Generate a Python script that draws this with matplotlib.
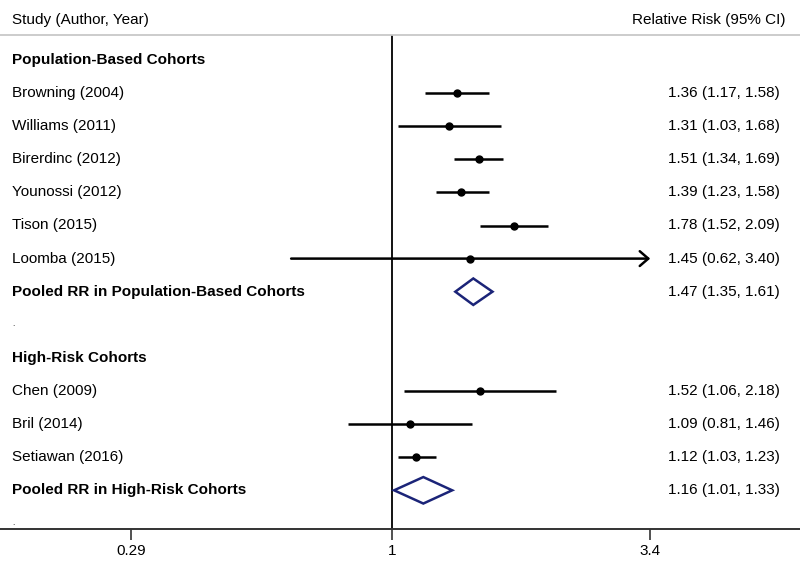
import matplotlib
matplotlib.use("Agg")
import math
import matplotlib.pyplot as plt
import matplotlib.transforms as mtransforms
from matplotlib.patches import Polygon

plt.rcParams['font.family'] = ['Liberation Sans', 'DejaVu Sans']

# ---- data ----
pop_studies = ["Browning (2004)", "Williams (2011)", "Birerdinc (2012)",
               "Younossi (2012)", "Tison (2015)", "Loomba (2015)"]
pop_rr = [1.36, 1.31, 1.51, 1.39, 1.78, 1.45]
pop_lo = [1.17, 1.03, 1.34, 1.23, 1.52, 0.62]
pop_hi = [1.58, 1.68, 1.69, 1.58, 2.09, 3.40]
pop_pooled = (1.47, 1.35, 1.61)

hr_studies = ["Chen (2009)", "Bril (2014)", "Setiawan (2016)"]
hr_rr = [1.52, 1.09, 1.12]
hr_lo = [1.06, 0.81, 1.03]
hr_hi = [2.18, 1.46, 1.23]
hr_pooled = (1.16, 1.01, 1.33)

tick_vals = [0.29, 1, 3.4]
tick_labels = ["0.29", "1", "3.4"]
x_max_shown = 3.4   # CIs reaching this are drawn with an arrow

# ---- layout ----
W, H = 800, 579
fig = plt.figure(figsize=(W / 100, H / 100), dpi=100)
top_px, bot_px = 35, 529
ax = fig.add_axes([0, (H - bot_px) / H, 1, (bot_px - top_px) / H])
ax.set_xscale('log')
px_per_ln = 211.0
ax.set_xlim(math.exp(-392 / px_per_ln), math.exp((W - 392) / px_per_ln))
row0_px, row_step = 60, 33.1
ax.set_ylim((bot_px - row0_px) / row_step, (top_px - row0_px) / row_step)

fs = 11
trans = mtransforms.blended_transform_factory(ax.transAxes, ax.transData)
xl, xr = 12 / W, 780 / W
navy = '#1b2478'

def fmt(r, l, h):
    return f"{r:.2f} ({l:.2f}, {h:.2f})"

def draw_study(row, name, r, l, h):
    ax.text(xl, row, name, transform=trans, ha='left', va='center', fontsize=fs)
    ax.text(xr, row, fmt(r, l, h), transform=trans, ha='right', va='center', fontsize=fs)
    if h >= x_max_shown:
        ax.annotate('', xy=(h, row), xytext=(l, row),
                    arrowprops=dict(arrowstyle='->,head_length=0.22,head_width=0.19',
                                    lw=1.8, color='black',
                                    mutation_scale=28, shrinkA=0, shrinkB=0))
    else:
        ax.plot([l, h], [row, row], color='black', lw=1.8, solid_capstyle='butt', zorder=3)
    ax.plot([r], [row], 'o', color='black', ms=5, zorder=4)

def draw_pooled(row, label, vals):
    r, l, h = vals
    ax.text(xl, row, label, transform=trans, ha='left', va='center', fontsize=fs, fontweight='bold')
    ax.text(xr, row, fmt(r, l, h), transform=trans, ha='right', va='center', fontsize=fs)
    d = 0.4
    ax.add_patch(Polygon([(l, row), (r, row - d), (h, row), (r, row + d)], closed=True,
                         fill=False, edgecolor=navy, lw=1.8, zorder=4))

row = 0
ax.text(xl, row, "Population-Based Cohorts", transform=trans, ha='left', va='center',
        fontsize=fs, fontweight='bold')
for i, name in enumerate(pop_studies):
    row += 1
    draw_study(row, name, pop_rr[i], pop_lo[i], pop_hi[i])
row += 1
draw_pooled(row, "Pooled RR in Population-Based Cohorts", pop_pooled)
row += 1
ax.text(xl, row, ".", transform=trans, ha='left', va='center', fontsize=6)
row += 1
ax.text(xl, row, "High-Risk Cohorts", transform=trans, ha='left', va='center',
        fontsize=fs, fontweight='bold')
for i, name in enumerate(hr_studies):
    row += 1
    draw_study(row, name, hr_rr[i], hr_lo[i], hr_hi[i])
row += 1
draw_pooled(row, "Pooled RR in High-Risk Cohorts", hr_pooled)
row += 1
ax.text(xl, row, ".", transform=trans, ha='left', va='center', fontsize=6)

ax.axvline(1, color='black', lw=1.3, zorder=2)

for s in ['left', 'right']:
    ax.spines[s].set_visible(False)
ax.spines['top'].set_color('#c8c8c8')
ax.spines['top'].set_linewidth(1.3)
ax.spines['bottom'].set_color('#333333')
ax.spines['bottom'].set_linewidth(1.4)

ax.set_xticks(tick_vals)
ax.set_xticklabels(tick_labels, fontsize=fs)
ax.xaxis.set_minor_locator(matplotlib.ticker.NullLocator())
ax.tick_params(axis='x', direction='out', length=8, width=1.2, pad=3, color='#333333')
ax.set_yticks([])

fig.text(12 / W, (H - 20) / H, "Study (Author, Year)", ha='left', va='center', fontsize=fs)
fig.text(785 / W, (H - 20) / H, "Relative Risk (95% CI)", ha='right', va='center', fontsize=fs)

fig.savefig("out.png", dpi=100)
